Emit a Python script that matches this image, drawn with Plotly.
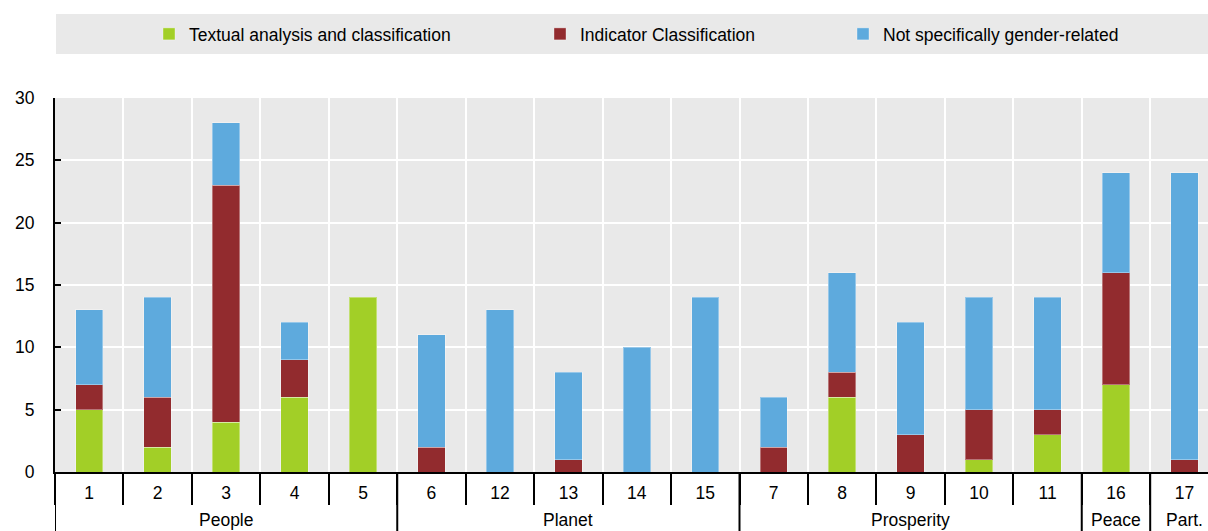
import plotly.graph_objects as go

categories = ["1", "2", "3", "4", "5", "6", "12", "13", "14", "15", "7", "8", "9", "10", "11", "16", "17"]
group_names = ["People", "Planet", "Prosperity", "Peace", "Part."]
group_sizes = [5, 5, 5, 1, 1]

textual = [5, 2, 4, 6, 14, 0, 0, 0, 0, 0, 0, 6, 0, 1, 3, 7, 0]
indicator = [2, 4, 19, 3, 0, 2, 0, 1, 0, 0, 2, 2, 3, 4, 2, 9, 1]
not_gender = [6, 8, 5, 3, 0, 9, 13, 7, 10, 14, 4, 8, 9, 9, 9, 8, 23]

series_names = ["Textual analysis and classification", "Indicator Classification", "Not specifically gender-related"]
colors = ["#A2CF27", "#922B2E", "#5EAADD"]

FONT = "Arial, 'Liberation Sans', sans-serif"
FS = 17.5
W, H = 1208, 531
ML, MT, MB, MR = 55, 98, 59, 0
plot_w = W - ML - MR
plot_h = H - MT - MB
cat_px = 68.45
n = len(categories)
x_idx = list(range(n))
x_max = -0.5 + plot_w / cat_px


def py_paper(py):
    return (H - MB - py) / plot_h


def px_paper(px):
    return (px - ML) / plot_w


fig = go.Figure()
legend_ids = ["legend", "legend2", "legend3"]
for name, vals, col, lg in zip(series_names, [textual, indicator, not_gender], colors, legend_ids):
    fig.add_trace(go.Bar(
        x=x_idx,
        y=[v if v else None for v in vals],
        name=name,
        marker=dict(color=col, line=dict(color="rgba(255,255,255,0.35)", width=1)),
        legend=lg,
    ))

# legend background box
fig.add_shape(type="rect", xref="paper", yref="paper",
              x0=px_paper(56), x1=1.02,
              y0=py_paper(54), y1=py_paper(14),
              fillcolor="#E9E9E9", line=dict(width=0), layer="below")

# group separators and labels
start = 0
bounds = [-0.5]
for gname, gsize in zip(group_names, group_sizes):
    end = start + gsize
    bounds.append(end - 0.5)
    fig.add_annotation(x=(start + end - 1) / 2, y=py_paper(520), xref="x", yref="paper",
                       text=gname, showarrow=False, yanchor="middle",
                       font=dict(family=FONT, size=FS, color="black"))
    start = end
for b in bounds:
    fig.add_shape(type="line", xref="x", yref="paper", x0=b, x1=b,
                  y0=0, y1=py_paper(H + 5), line=dict(color="black", width=2))

leg_common = dict(orientation="h", yanchor="middle", xanchor="left",
                  y=py_paper(34), bgcolor="rgba(0,0,0,0)",
                  font=dict(family=FONT, size=FS, color="black"))
fig.update_layout(
    legend=dict(x=px_paper(149), **leg_common),
    legend2=dict(x=px_paper(540), **leg_common),
    legend3=dict(x=px_paper(843), **leg_common),
)

fig.update_layout(
    width=W, height=H,
    margin=dict(l=ML, r=MR, t=MT, b=MB, pad=0),
    barmode="stack", bargap=0.6,
    plot_bgcolor="#E9E9E9", paper_bgcolor="white",
    font=dict(family=FONT, size=FS, color="black"),
    showlegend=True,
    xaxis=dict(
        range=[-0.5, x_max],
        tickmode="array", tickvals=x_idx, ticktext=categories,
        ticks="", showgrid=False, zeroline=False,
        showline=True, linecolor="black", linewidth=2,
        ticklabelstandoff=4,
        tickfont=dict(family=FONT, size=FS, color="black"),
        minor=dict(tick0=-0.5, dtick=1, ticks="outside", ticklen=31, tickwidth=2,
                   tickcolor="black", showgrid=True, gridcolor="white", gridwidth=2),
    ),
    yaxis=dict(
        range=[0, 30], dtick=5, tick0=0,
        ticks="inside", ticklen=6, tickwidth=2, tickcolor="black",
        showline=True, linecolor="black", linewidth=2,
        showgrid=True, gridcolor="white", gridwidth=2, zeroline=False,
        ticklabelstandoff=15,
        tickfont=dict(family=FONT, size=FS, color="black"),
    ),
)

fig.write_html(
    "out.html",
    config={"displayModeBar": False},
    post_script="document.body.style.margin='0';document.documentElement.style.overflow='hidden';",
)
